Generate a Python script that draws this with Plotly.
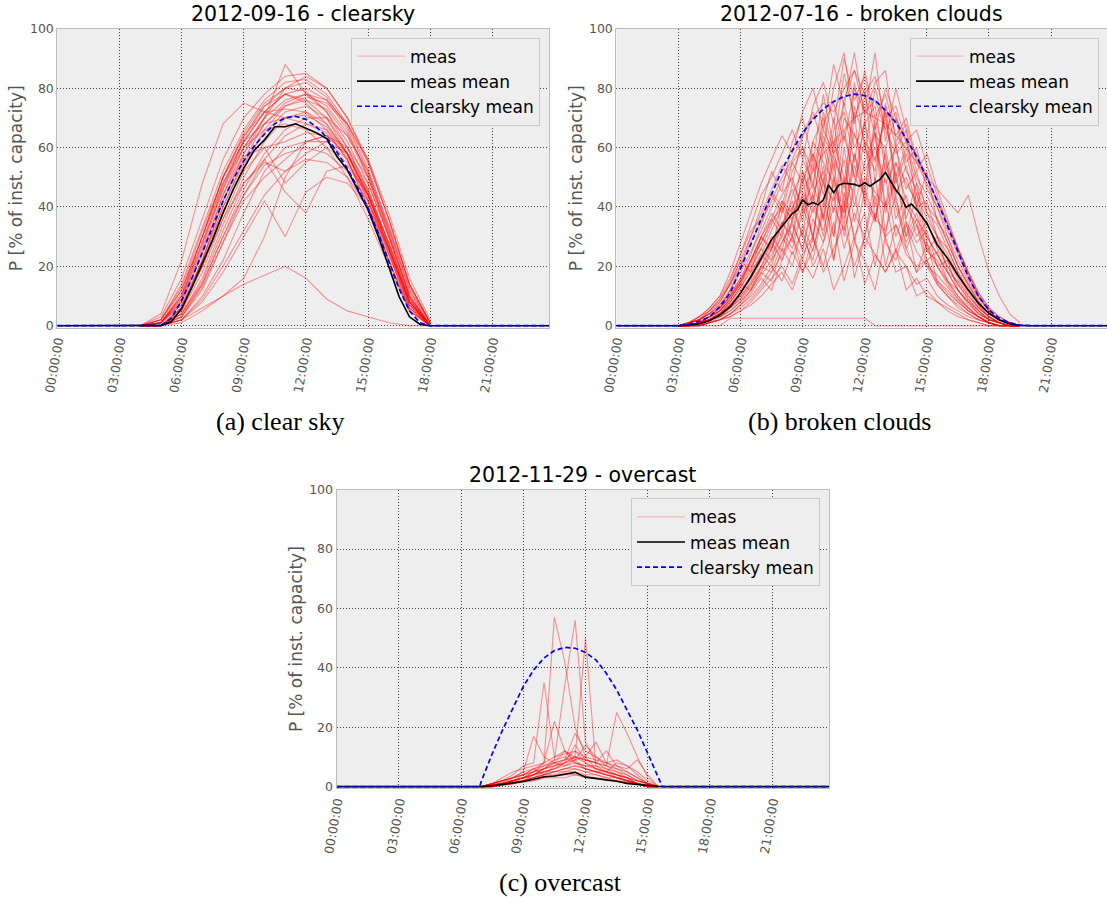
import numpy as np
import plotly.graph_objects as go

W, H = 1107, 897

# ---------------- Panel (a) clear sky: 2012-09-16 ----------------
T_A = [4, 5, 6, 7, 8, 9, 10, 11, 12, 13, 14, 15, 16, 17, 18]
A_MEAS = [
    [0, 1, 10, 28, 48, 62, 72, 78, 80, 76, 66, 50, 30, 10, 0],
    [0, 0, 6, 22, 40, 55, 65, 72, 74, 70, 60, 46, 27, 8, 0],
    [0, 2, 14, 33, 52, 66, 76, 82, 83, 78, 68, 53, 33, 12, 1],
    [0, 0, 4, 16, 34, 50, 62, 70, 72, 68, 58, 43, 24, 6, 0],
    [0, 1, 8, 25, 44, 60, 70, 76, 78, 74, 65, 51, 32, 12, 0],
    [0, 0, 3, 12, 28, 44, 56, 64, 68, 66, 58, 44, 26, 7, 0],
    [0, 3, 16, 36, 56, 70, 78, 84, 85, 80, 70, 55, 36, 14, 1],
    [0, 0, 5, 18, 36, 52, 60, 62, 65, 64, 57, 45, 28, 9, 0],
    [0, 1, 9, 27, 47, 63, 74, 80, 82, 77, 67, 52, 31, 11, 0],
    [0, 0, 2, 10, 22, 38, 52, 60, 62, 62, 56, 42, 25, 6, 0],
    [0, 4, 22, 48, 68, 75, 72, 73, 72, 66, 56, 40, 22, 6, 0],
    [0, 0, 2, 6, 10, 14, 17, 20, 16, 9, 5, 3, 1, 0, 0],
    [0, 0, 1, 5, 10, 16, 30, 50, 62, 64, 58, 46, 28, 9, 0],
    [0, 1, 7, 22, 42, 57, 60, 48, 55, 60, 55, 44, 28, 9, 0],
    [0, 0, 6, 20, 38, 54, 66, 74, 77, 75, 68, 56, 38, 16, 2],
    [0, 2, 12, 30, 50, 64, 72, 70, 68, 65, 56, 40, 22, 5, 0],
    [0, 0, 3, 14, 30, 46, 58, 66, 70, 70, 64, 52, 34, 14, 1],
    [0, 1, 10, 30, 50, 65, 75, 80, 79, 72, 60, 45, 26, 8, 0],
    [0, 0, 4, 15, 32, 48, 56, 45, 38, 52, 54, 44, 27, 8, 0],
    [0, 1, 8, 24, 44, 58, 68, 74, 76, 73, 64, 50, 31, 10, 0],
    [0, 0, 5, 20, 40, 56, 68, 75, 78, 76, 68, 55, 36, 14, 1],
    [0, 1, 10, 28, 46, 60, 70, 88, 78, 72, 62, 48, 30, 10, 0],
    [0, 0, 2, 9, 20, 32, 44, 52, 56, 55, 50, 40, 24, 7, 0],
    [0, 2, 13, 32, 50, 62, 68, 70, 71, 67, 58, 44, 25, 7, 0],
    [0, 0, 4, 14, 30, 44, 54, 58, 60, 58, 52, 42, 26, 8, 0],
    [0, 1, 9, 26, 46, 62, 72, 78, 76, 70, 58, 42, 22, 5, 0],
    [0, 0, 3, 13, 28, 42, 50, 56, 62, 64, 60, 50, 33, 13, 1],
    [0, 2, 12, 30, 48, 60, 66, 68, 66, 60, 50, 36, 20, 5, 0],
    [0, 0, 6, 22, 42, 58, 70, 80, 84, 80, 70, 56, 36, 14, 1],
    [0, 1, 7, 20, 36, 48, 55, 52, 58, 62, 58, 48, 30, 10, 0],
    [0, 0, 2, 8, 18, 30, 42, 30, 45, 50, 48, 40, 26, 8, 0],
    [0, 1, 11, 30, 50, 64, 74, 78, 75, 68, 58, 44, 26, 8, 0],
]
T_A_MEAN = [0, 4.5, 5.0, 5.5, 6.0, 6.5, 7.0, 7.5, 8.0, 8.5, 9.0, 9.5, 10.0, 10.5, 11.0,
            11.5, 12.0, 12.5, 13.0, 13.5, 14.0, 14.5, 15.0, 15.5, 16.0, 16.5, 17.0, 17.5, 18.0, 23.75]
A_MEAN = [0, 0, 0.1, 1.3, 5.8, 13, 21, 29, 38, 46, 53, 59, 62.6, 67, 67,
          68, 66.5, 65, 63, 57, 52.5, 46, 39, 30, 20, 9.8, 3, 0.5, 0, 0]
A_CLEARSKY = [0, 0, 0, 2.5, 8.5, 16, 24.5, 33, 42, 49.5, 55.5, 60.5, 64.5, 68, 70,
              70.5, 69.5, 67, 63.5, 58.5, 53, 46.5, 39.5, 31, 22, 12.5, 5, 1, 0, 0]

# ---------------- Panel (b) broken clouds: 2012-07-16 ----------------
T_B = [3.0, 3.5, 4.0, 4.5, 5.0, 5.5, 6.0, 6.5, 7.0, 7.5, 8.0, 8.5, 9.0, 9.5, 10.0, 10.5, 11.0,
       11.5, 12.0, 12.5, 13.0, 13.5, 14.0, 14.5, 15.0, 15.5, 16.0, 16.5, 17.0, 17.5, 18.0, 18.5,
       19.0, 19.5]
B_MEAS = [
    [0, 0, 1, 3, 6, 12, 20, 30, 40, 52, 45, 62, 70, 55, 78, 60, 85, 70, 80, 48, 75, 60, 66, 40, 52, 35, 30, 20, 14, 8, 4, 2, 1, 0],
    [0, 1, 2, 4, 8, 14, 22, 18, 30, 25, 42, 35, 50, 28, 60, 45, 38, 72, 40, 65, 30, 55, 48, 42, 25, 30, 18, 15, 10, 6, 3, 1, 0, 0],
    [0, 0, 1, 2, 4, 8, 12, 16, 22, 30, 25, 40, 30, 55, 35, 62, 50, 45, 70, 35, 60, 42, 30, 45, 28, 20, 22, 12, 8, 5, 2, 1, 0, 0],
    [0, 0, 0, 1, 3, 6, 10, 14, 20, 18, 28, 35, 25, 45, 52, 30, 60, 40, 55, 65, 38, 50, 35, 28, 32, 20, 15, 10, 6, 3, 1, 0, 0, 0],
    [0, 1, 3, 6, 10, 18, 28, 38, 48, 56, 64, 58, 72, 80, 66, 88, 74, 92, 70, 82, 86, 62, 68, 55, 48, 40, 30, 22, 15, 9, 5, 2, 1, 0],
    [0, 0, 1, 2, 5, 9, 14, 20, 26, 22, 35, 30, 45, 38, 48, 42, 56, 35, 50, 45, 40, 52, 30, 38, 25, 22, 15, 12, 8, 4, 2, 1, 0, 0],
    [0, 0, 2, 5, 9, 15, 24, 32, 36, 45, 40, 55, 48, 62, 70, 52, 75, 60, 68, 55, 72, 45, 50, 40, 42, 30, 26, 18, 12, 7, 3, 1, 0, 0],
    [0, 0, 1, 3, 5, 10, 16, 22, 30, 38, 32, 48, 40, 30, 50, 22, 45, 30, 38, 20, 42, 25, 35, 18, 28, 15, 12, 8, 5, 3, 1, 0, 0, 0],
    [0, 0, 0, 1, 2, 4, 7, 10, 14, 20, 15, 25, 18, 30, 20, 35, 15, 28, 22, 12, 30, 18, 20, 10, 12, 8, 6, 4, 2, 1, 0, 0, 0, 0],
    [0, 1, 3, 5, 9, 14, 20, 28, 35, 42, 50, 56, 64, 70, 75, 72, 80, 86, 78, 84, 70, 74, 62, 58, 50, 42, 34, 25, 17, 10, 5, 2, 1, 0],
    [0, 0, 1, 2, 3, 5, 8, 12, 18, 26, 35, 28, 40, 48, 36, 58, 46, 65, 52, 60, 48, 55, 42, 36, 30, 24, 18, 12, 7, 4, 2, 1, 0, 0],
    [0, 0, 1, 2, 4, 7, 10, 15, 20, 26, 34, 42, 30, 22, 40, 55, 30, 48, 62, 40, 58, 36, 44, 30, 35, 26, 20, 14, 9, 5, 2, 1, 0, 0],
    [0, 0, 1, 3, 6, 10, 15, 21, 28, 35, 40, 36, 48, 58, 44, 66, 72, 55, 78, 64, 60, 70, 52, 46, 38, 34, 26, 18, 12, 7, 3, 1, 0, 0],
    [0, 0, 0, 1, 2, 3, 5, 8, 12, 16, 20, 14, 24, 30, 18, 26, 34, 20, 30, 24, 18, 25, 20, 14, 16, 10, 7, 5, 3, 2, 1, 0, 0, 0],
    [0, 1, 2, 4, 7, 12, 18, 25, 32, 40, 48, 55, 60, 52, 68, 75, 62, 80, 72, 76, 66, 58, 62, 50, 44, 36, 28, 20, 13, 8, 4, 2, 1, 0],
    [0, 0, 0, 0, 0, 2.5, 2.5, 2.5, 2.5, 2.5, 2.5, 2.5, 2.5, 2.5, 2.5, 2.5, 2.5, 2.5, 2.5, 0, 0, 0, 0, 0, 0, 0, 0, 0, 0, 0, 0, 0, 0, 0],
    [0, 0, 1, 2, 4, 8, 13, 18, 24, 20, 32, 26, 38, 44, 30, 50, 38, 58, 42, 35, 55, 40, 28, 36, 22, 25, 15, 10, 6, 3, 1, 0, 0, 0],
    [0, 0, 1, 3, 5, 9, 14, 22, 30, 36, 44, 50, 38, 62, 55, 48, 70, 64, 58, 80, 66, 72, 55, 60, 46, 40, 32, 24, 16, 10, 5, 2, 1, 0],
    [0, 0, 0, 1, 2, 4, 6, 9, 13, 18, 24, 30, 22, 36, 28, 40, 32, 45, 26, 38, 30, 34, 24, 20, 22, 15, 11, 8, 5, 3, 1, 0, 0, 0],
    [0, 1, 2, 4, 7, 11, 16, 24, 34, 44, 38, 52, 60, 46, 72, 58, 64, 50, 68, 74, 52, 60, 46, 52, 38, 30, 24, 17, 11, 6, 3, 1, 0, 0],
    [0, 0, 1, 2, 3, 6, 9, 13, 18, 15, 26, 20, 34, 25, 42, 30, 50, 28, 46, 36, 32, 44, 26, 34, 20, 17, 13, 9, 6, 3, 1, 0, 0, 0],
    [0, 1, 2, 5, 8, 14, 22, 30, 38, 46, 54, 48, 64, 72, 60, 80, 92, 68, 86, 70, 78, 64, 70, 56, 50, 42, 35, 26, 18, 11, 6, 3, 1, 0],
    [0, 0, 1, 2, 4, 7, 11, 16, 22, 28, 34, 40, 46, 52, 58, 62, 66, 70, 72, 70, 68, 64, 60, 55, 50, 46, 42, 38, 44, 30, 18, 10, 4, 1],
    [0, 0, 1, 3, 5, 9, 15, 22, 30, 26, 38, 46, 35, 58, 48, 70, 40, 82, 60, 52, 74, 48, 58, 44, 36, 30, 22, 16, 10, 6, 3, 1, 0, 0],
    [0, 1, 2, 3, 6, 10, 14, 12, 20, 28, 22, 36, 44, 30, 54, 38, 66, 50, 44, 68, 40, 62, 36, 48, 30, 24, 18, 12, 8, 4, 2, 1, 0, 0],
    [0, 0, 1, 2, 4, 6, 9, 14, 19, 24, 30, 24, 32, 20, 28, 44, 26, 38, 30, 50, 28, 22, 34, 25, 20, 14, 10, 7, 4, 2, 1, 0, 0, 0],
    [0, 1, 3, 6, 10, 16, 24, 34, 44, 50, 58, 66, 56, 74, 82, 68, 90, 76, 84, 66, 80, 70, 62, 66, 54, 44, 34, 26, 18, 11, 6, 3, 1, 0],
    [0, 0, 1, 2, 4, 7, 11, 17, 24, 32, 40, 30, 52, 42, 62, 50, 34, 58, 46, 70, 56, 44, 54, 40, 34, 28, 20, 14, 9, 5, 2, 1, 0, 0],
    [0, 0, 0, 1, 2, 4, 7, 11, 16, 12, 22, 30, 18, 26, 38, 22, 42, 16, 30, 44, 20, 34, 26, 18, 22, 14, 10, 6, 4, 2, 1, 0, 0, 0],
    [0, 1, 2, 4, 6, 10, 15, 22, 28, 36, 30, 44, 52, 40, 64, 56, 48, 74, 62, 56, 70, 50, 60, 48, 40, 36, 28, 20, 14, 8, 4, 2, 1, 0],
    [0, 0, 1, 2, 3, 5, 8, 12, 17, 22, 28, 34, 26, 40, 32, 48, 36, 54, 44, 36, 50, 30, 40, 34, 26, 20, 14, 9, 5, 3, 1, 0, 0, 0],
    [0, 0, 1, 3, 5, 8, 13, 19, 26, 34, 42, 38, 56, 48, 66, 58, 76, 86, 72, 92, 62, 80, 66, 52, 58, 46, 36, 26, 18, 10, 5, 2, 1, 0],
    [0, 0, 0, 1, 2, 3, 5, 7, 10, 14, 18, 12, 22, 16, 26, 12, 20, 30, 14, 24, 18, 26, 12, 16, 10, 8, 5, 3, 2, 1, 0, 0, 0, 0],
]
T_B_MEAN = [0, 3.0, 3.5, 4.0, 4.5, 5.0, 5.5, 6.0, 6.5, 7.0, 7.5, 8.0, 8.5, 8.75, 9.0, 9.25,
            9.5, 9.75, 10.0, 10.25, 10.5, 10.75, 11.0, 11.5, 11.75, 12.0, 12.25, 12.5, 12.75,
            13.0, 13.25, 13.5, 13.75, 14.0, 14.25, 14.5, 15.0, 15.5, 16.0, 16.5, 17.0, 17.5,
            18.0, 18.5, 19.0, 19.5, 20.0, 23.75]
B_MEAN = [0, 0, 0.3, 0.6, 1.7, 3.6, 6.4, 11, 16.5, 23, 29, 33.4, 37.8, 39, 42.4, 40.7,
          41.5, 40.7, 42.4, 47.4, 44.8, 47.4, 48, 47.6, 47, 48.2, 47, 48.2, 49.4,
          51.6, 48.5, 45.7, 43.5, 39.9, 41, 39.2, 34.5, 27.2, 22.7, 17, 12, 7.5,
          4.2, 1.9, 0.6, 0.1, 0, 0]
T_B_CS = [0, 3.0, 3.5, 4.0, 4.5, 5.0, 5.5, 6.0, 6.5, 7.0, 7.5, 8.0, 8.5, 9.0, 9.5, 10.0, 10.5,
          11.0, 11.5, 12.0, 12.5, 13.0, 13.5, 14.0, 14.5, 15.0, 15.5, 16.0, 16.5, 17.0, 17.5,
          18.0, 18.5, 19.0, 19.5, 20.0, 23.75]
B_CLEARSKY = [0, 0, 0.5, 1.5, 3, 6.4, 11, 19, 27.5, 36, 44.5, 52.5, 59, 65, 69.5, 73, 75.5,
              77.2, 78, 77.5, 75.8, 72.5, 68.5, 63, 57, 50, 42, 33.5, 25, 16.5, 9.8,
              5.3, 2.5, 1, 0.2, 0, 0]

# ---------------- Panel (c) overcast: 2012-11-29 ----------------
T_C = [7.0, 7.5, 8.0, 8.5, 9.0, 9.5, 10.0, 10.5, 11.0, 11.5, 12.0, 12.5, 13.0, 13.5, 14.0, 14.5, 15.0, 15.5]
C_MEAS = [
    [0, 0.5, 1, 2, 3, 4, 6, 8, 7, 9, 6, 5, 4, 3, 2, 1, 0.5, 0],
    [0, 1, 2, 3, 5, 6, 4, 7, 9, 12, 8, 6, 5, 4, 2, 1, 0, 0],
    [0, 0, 1, 1.5, 2, 3, 4, 5, 5, 6, 5, 4, 3, 2, 1.5, 1, 0, 0],
    [0, 1, 2, 4, 7, 8, 35, 10, 12, 8, 6, 5, 4, 3, 2, 1, 0, 0],
    [0, 0.5, 1, 2, 3, 5, 8, 57, 42, 20, 10, 6, 5, 3, 2, 1, 0, 0],
    [0, 0, 1, 2, 3, 4, 6, 9, 34, 56, 15, 8, 6, 4, 3, 1, 0, 0],
    [0, 0.5, 1, 2, 3, 4, 5, 6, 8, 10, 50, 7, 5, 4, 3, 1, 0, 0],
    [0, 0.5, 1, 2, 4, 6, 8, 22, 12, 10, 8, 6, 5, 4, 3, 1, 0, 0],
    [0, 0, 0.5, 1, 2, 3, 5, 6, 8, 10, 9, 8, 7, 25, 18, 10, 3, 0],
    [0, 1, 2, 3, 5, 17, 10, 8, 9, 18, 12, 10, 8, 6, 4, 2, 1, 0],
    [0, 0.5, 1.5, 3, 4, 5, 6, 7, 8, 9, 10, 15, 8, 9, 7, 5, 2, 0],
    [0, 0, 0.5, 1, 1.5, 2, 3, 3.5, 4, 4, 3.5, 3, 2.5, 2, 1.5, 1, 0.5, 0],
    [0, 1, 2, 3, 4, 5, 7, 9, 10, 8, 7, 6, 5, 8, 7, 4, 1, 0],
    [0, 0.5, 1, 1.5, 2, 3, 4, 5, 6, 7, 6, 5, 4, 3, 2, 1, 0.5, 0],
    [0, 0, 1, 2, 3, 3, 4, 4, 5, 5, 4, 4, 3, 3, 2, 1, 0, 0],
    [0, 1, 3, 5, 6, 7, 8, 10, 11, 12, 10, 9, 8, 7, 6, 9, 4, 0],
    [0, 0.5, 1, 1, 2, 2, 3, 3, 3, 4, 3, 3, 2, 2, 1, 1, 0, 0],
    [0, 0, 0.5, 1, 2, 4, 6, 8, 12, 9, 14, 10, 7, 5, 3, 2, 1, 0],
    [0, 1, 2, 3, 4, 6, 7, 8, 9, 10, 9, 8, 7, 6, 5, 3, 1, 0],
    [0, 0.5, 1, 2, 3, 4, 5, 6, 7, 8, 7, 7, 6, 5, 4, 2, 1, 0],
    [0, 0, 1, 2, 2, 3, 4, 5, 6, 6, 5, 5, 4, 3, 2, 1, 0, 0],
    [0, 0.5, 1, 2, 3, 5, 6, 7, 8, 14, 9, 8, 12, 7, 5, 3, 1, 0],
    [0, 1, 2, 2, 3, 4, 5, 5, 6, 7, 6, 5, 5, 4, 3, 2, 1, 0],
]
T_C_MEAN = [0, 6.5, 7.0, 7.5, 8.0, 8.5, 9.0, 9.5, 10.0, 10.5, 11.0, 11.5, 12.0, 12.5, 13.0,
            13.5, 14.0, 14.5, 15.0, 15.5, 16.0, 23.75]
C_MEAN = [0, 0, 0, 0.3, 0.8, 1.3, 1.7, 2.5, 3.3, 3.6, 4.2, 4.8, 3.2, 2.8, 2.3,
          1.8, 1.1, 0.7, 0.3, 0.05, 0, 0]
T_C_CS = [0, 6.9, 7.0, 7.5, 8.0, 8.5, 9.0, 9.5, 10.0, 10.5, 11.0, 11.5, 12.0, 12.5, 13.0,
          13.5, 14.0, 14.5, 15.0, 15.5, 15.7, 23.75]
C_CLEARSKY = [0, 0, 2.2, 11, 19, 26.4, 33.7, 39.3, 43.3, 45.8, 46.9, 46.6, 45.2, 42.7, 38.2,
              32.6, 25.8, 19, 11.2, 3.4, 0, 0]

TICK_VALS = [0, 3, 6, 9, 12, 15, 18, 21]
TICK_TEXT = ["00:00:00", "03:00:00", "06:00:00", "09:00:00", "12:00:00", "15:00:00", "18:00:00", "21:00:00"]
Y_TICKS = [0, 20, 40, 60, 80, 100]

TITLES = ["2012-09-16 - clearsky", "2012-07-16 - broken clouds", "2012-11-29 - overcast"]
CAPTIONS = ["(a) clear sky", "(b) broken clouds", "(c) overcast"]

# layout geometry in pixels (left, right, top, bottom), x-range end, legend right/top, ylabel x, caption centre
PANELS = [
    dict(xd=(57.3, 549.3), yd=(28.8, 327.5), xmax=23.75, leg=(540, 37.5), ylab=16, cap=(280, 421),
         meas=(T_A, A_MEAS), mean=(T_A_MEAN, A_MEAN), cs=(T_A_MEAN, A_CLEARSKY)),
    dict(xd=(616.3, 1107), yd=(28.8, 327.5), xmax=23.7, leg=(1099, 37.5), ylab=576, cap=(839, 421),
         meas=(T_B, B_MEAS), mean=(T_B_MEAN, B_MEAN), cs=(T_B_CS, B_CLEARSKY)),
    dict(xd=(336.5, 829.3), yd=(489.7, 788.4), xmax=23.75, leg=(820, 498.3), ylab=296, cap=(560, 882),
         meas=(T_C, C_MEAS), mean=(T_C_MEAN, C_MEAN), cs=(T_C_CS, C_CLEARSKY)),
]

fig = go.Figure()
annotations = []
layout_axes = {}
legends = {}

for i, p in enumerate(PANELS):
    n = "" if i == 0 else str(i + 1)
    xa, ya = "x" + n, "y" + n
    lg = "legend" + n
    t, lines = p["meas"]
    # legend-only entry with the light pink sample of the original
    fig.add_trace(go.Scatter(x=[None], y=[None], mode="lines", xaxis=xa, yaxis=ya,
                             line=dict(color="rgba(255,0,0,0.22)", width=1.2),
                             name="meas", legend=lg, showlegend=True))
    for j, vals in enumerate(lines):
        fig.add_trace(go.Scatter(
            x=t, y=vals, mode="lines", xaxis=xa, yaxis=ya,
            line=dict(color="rgba(255,0,0,0.4)", width=1.1),
            name="meas", showlegend=False, legend=lg, hoverinfo="skip"))
    tm, vm = p["mean"]
    fig.add_trace(go.Scatter(x=tm, y=vm, mode="lines", xaxis=xa, yaxis=ya,
                             line=dict(color="black", width=1.6), name="meas mean", legend=lg))
    tc, vc = p["cs"]
    fig.add_trace(go.Scatter(x=tc, y=vc, mode="lines", xaxis=xa, yaxis=ya,
                             line=dict(color="#0000ff", width=1.7, dash="5px,3px"),
                             name="clearsky mean", legend=lg))

    common = dict(showline=True, mirror=True, linecolor="#bcbcbc", linewidth=1,
                  showgrid=True, gridcolor="#444444", gridwidth=1, griddash="1px,2px",
                  zeroline=False, ticks="", automargin=False,
                  tickfont=dict(family="DejaVu Sans", size=12.5, color="#555555"))
    layout_axes["xaxis" + n] = dict(
        common, domain=[p["xd"][0] / W, p["xd"][1] / W], range=[0, p["xmax"]],
        tickvals=TICK_VALS, ticktext=TICK_TEXT, tickangle=-80, anchor=ya)
    layout_axes["yaxis" + n] = dict(
        common, domain=[1 - p["yd"][1] / H, 1 - p["yd"][0] / H], range=[-0.6, 100],
        tickvals=Y_TICKS, anchor=xa)
    legends[lg] = dict(
        x=p["leg"][0] / W, y=1 - p["leg"][1] / H, xanchor="right", yanchor="top",
        bgcolor="#eeeeee", bordercolor="#c8c8c8", borderwidth=1,
        font=dict(family="DejaVu Sans", size=17, color="black"),
        itemwidth=48, tracegroupgap=0)

    cx = (p["xd"][0] + p["xd"][1]) / 2
    annotations.append(dict(text=TITLES[i], x=cx / W, y=1 - (p["yd"][0] - 14.5) / H,
                            xref="paper", yref="paper", showarrow=False,
                            xanchor="center", yanchor="middle",
                            font=dict(family="DejaVu Sans", size=20.5, color="black")))
    cy = (p["yd"][0] + p["yd"][1]) / 2
    annotations.append(dict(text="P [% of inst. capacity]", x=p["ylab"] / W, y=1 - cy / H,
                            xref="paper", yref="paper", showarrow=False, textangle=-90,
                            xanchor="center", yanchor="middle",
                            font=dict(family="DejaVu Sans", size=17, color="#555555")))
    annotations.append(dict(text=CAPTIONS[i], x=p["cap"][0] / W, y=1 - p["cap"][1] / H,
                            xref="paper", yref="paper", showarrow=False,
                            xanchor="center", yanchor="middle",
                            font=dict(family="Liberation Serif", size=26, color="black")))

fig.update_layout(
    width=W, height=H, margin=dict(l=0, r=0, t=0, b=0, autoexpand=False),
    paper_bgcolor="white", plot_bgcolor="#eeeeee",
    annotations=annotations, showlegend=True,
    **layout_axes, **legends)

fig.write_html("out.html")
